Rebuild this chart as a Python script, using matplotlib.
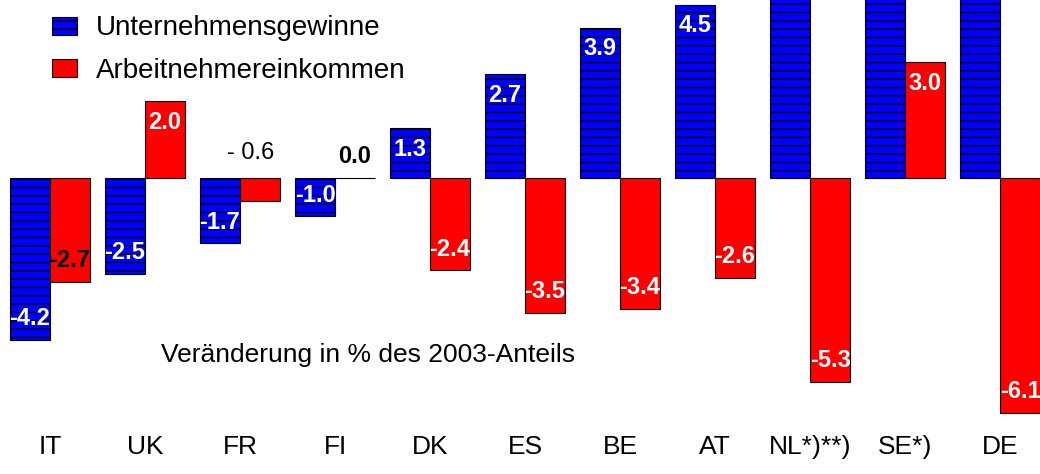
import matplotlib
matplotlib.use("Agg")
import matplotlib.pyplot as plt
import numpy as np

plt.rcParams['font.family'] = ['Liberation Sans', 'DejaVu Sans']
plt.rcParams['hatch.linewidth'] = 1.0

countries = ["IT", "UK", "FR", "FI", "DK", "ES", "BE", "AT", "NL*)**)", "SE*)", "DE"]
# Unternehmensgewinne (NL, SE, DE run off the top of the chart, values estimated)
gewinne = [-4.2, -2.5, -1.7, -1.0, 1.3, 2.7, 3.9, 4.5, 6.0, 5.5, 6.5]
# Arbeitnehmereinkommen
einkommen = [-2.7, 2.0, -0.6, 0.0, -2.4, -3.5, -3.4, -2.6, -5.3, 3.0, -6.1]

ymin, ymax = -7.69, 4.62

fig = plt.figure(figsize=(10.4, 4.74), dpi=100)
ax = fig.add_axes([0, 0, 1, 1])

x = np.arange(len(countries))
w = 0.421

ax.bar(x - w / 2, gewinne, w, color="#0000ff", edgecolor="black",
       linewidth=0.8, hatch="--", label="Unternehmensgewinne")
ax.bar(x + w / 2, einkommen, w, color="#ff0000", edgecolor="black",
       linewidth=0.8, label="Arbeitnehmereinkommen")

off = 0.55
for i, v in enumerate(gewinne):
    y = v - off if v > 0 else v + off
    if y + 0.3 > ymax:
        continue  # label lies above the visible area
    ax.text(x[i] - w / 2, y, f"{v:.1f}", ha="center", va="center",
            color="white", fontsize=17, fontweight="bold")

for i, v in enumerate(einkommen):
    if v == 0:
        ax.text(x[i] + w / 2, 0.55, f"{v:.1f}", ha="center", va="center",
                color="black", fontsize=17, fontweight="bold")
        continue
    if abs(v) < 1:
        ax.text(x[i] + w / 2 - 0.1, 0.65, f"- {abs(v):.1f}", ha="center",
                va="center", color="black", fontsize=17)
        continue
    y = v - off if v > 0 else v + off
    col = "black" if countries[i] == "IT" else "white"
    ax.text(x[i] + w / 2, y, f"{v:.1f}", ha="center", va="center",
            color=col, fontsize=17, fontweight="bold")

for i, c in enumerate(countries):
    ax.text(x[i], -6.98, c, ha="center", va="center", fontsize=19)

ax.text(1.17, -4.6, "Veränderung in % des 2003-Anteils", ha="left",
        va="center", fontsize=19)

ax.legend(loc="upper left", bbox_to_anchor=(0.035, 1.0), frameon=False,
          fontsize=20, handlelength=0.9, handleheight=0.62,
          handletextpad=0.68, labelspacing=0.6, borderaxespad=0.15)

ax.set_xlim(-0.526, 10.42)
ax.set_ylim(ymin, ymax)
ax.axis("off")

plt.savefig("out.png", dpi=100)
